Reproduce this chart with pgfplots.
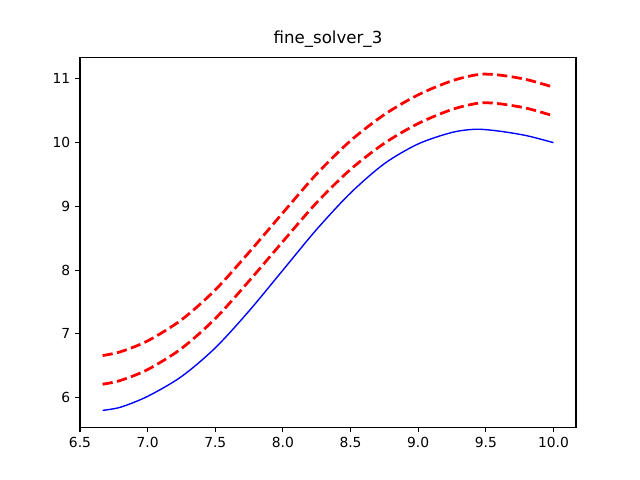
\documentclass[border=0pt]{standalone}
\usepackage{pgfplots}
\pgfplotsset{compat=1.18}
\usepackage{fontspec}
\setmainfont{DejaVu Sans}
\begin{document}
\begin{tikzpicture}
\begin{axis}[
  scale only axis, width=4.96in, height=3.696in,
  xmin=6.5, xmax=10.1667, ymin=5.536, ymax=11.334,
  xtick={6.5,7,...,10}, ytick={6,7,...,11},
  xticklabel style={/pgf/number format/fixed,/pgf/number format/fixed zerofill,/pgf/number format/precision=1},
  /pgf/number format/assume math mode=true,
  tick align=outside, tick pos=left,
  tick style={black, line width=0.8pt, major tick length=3.5pt},
  axis line style={line width=0.8pt},
  ticklabel style={font=\fontsize{10}{12}\selectfont},
  title={fine\_solver\_3}, title style={font=\fontsize{12}{14}\selectfont, yshift=-2pt},
]
\addplot[blue, line width=1pt, smooth] coordinates {
(6.667,5.80) (6.8,5.85) (7.0,6.02) (7.25,6.33) (7.5,6.78) (7.75,7.36) (8.0,8.0) (8.25,8.64) (8.5,9.21) (8.75,9.67) (9.0,9.98) (9.25,10.16) (9.43,10.21) (9.6,10.18) (9.8,10.11) (10,10.0)};
\addplot[red, line width=2pt, dash pattern=on 7.4pt off 3.2pt, smooth] coordinates {
(6.667,6.21) (6.8,6.27) (7.0,6.44) (7.25,6.77) (7.5,7.24) (7.75,7.83) (8.0,8.45) (8.25,9.06) (8.5,9.58) (8.75,9.99) (9.0,10.3) (9.25,10.52) (9.45,10.62) (9.6,10.61) (9.8,10.54) (10,10.42)};
\addplot[red, line width=2pt, dash pattern=on 7.4pt off 3.2pt, smooth] coordinates {
(6.667,6.66) (6.8,6.72) (7.0,6.89) (7.25,7.22) (7.5,7.69) (7.75,8.28) (8.0,8.90) (8.25,9.51) (8.5,10.03) (8.75,10.44) (9.0,10.75) (9.25,10.97) (9.45,11.07) (9.6,11.06) (9.8,10.99) (10,10.87)};
\end{axis}
\useasboundingbox ([xshift=-0.8in,yshift=-0.528in]current axis.south west) rectangle ([xshift=0.64in,yshift=0.576in]current axis.north east);
\end{tikzpicture}
\end{document}
